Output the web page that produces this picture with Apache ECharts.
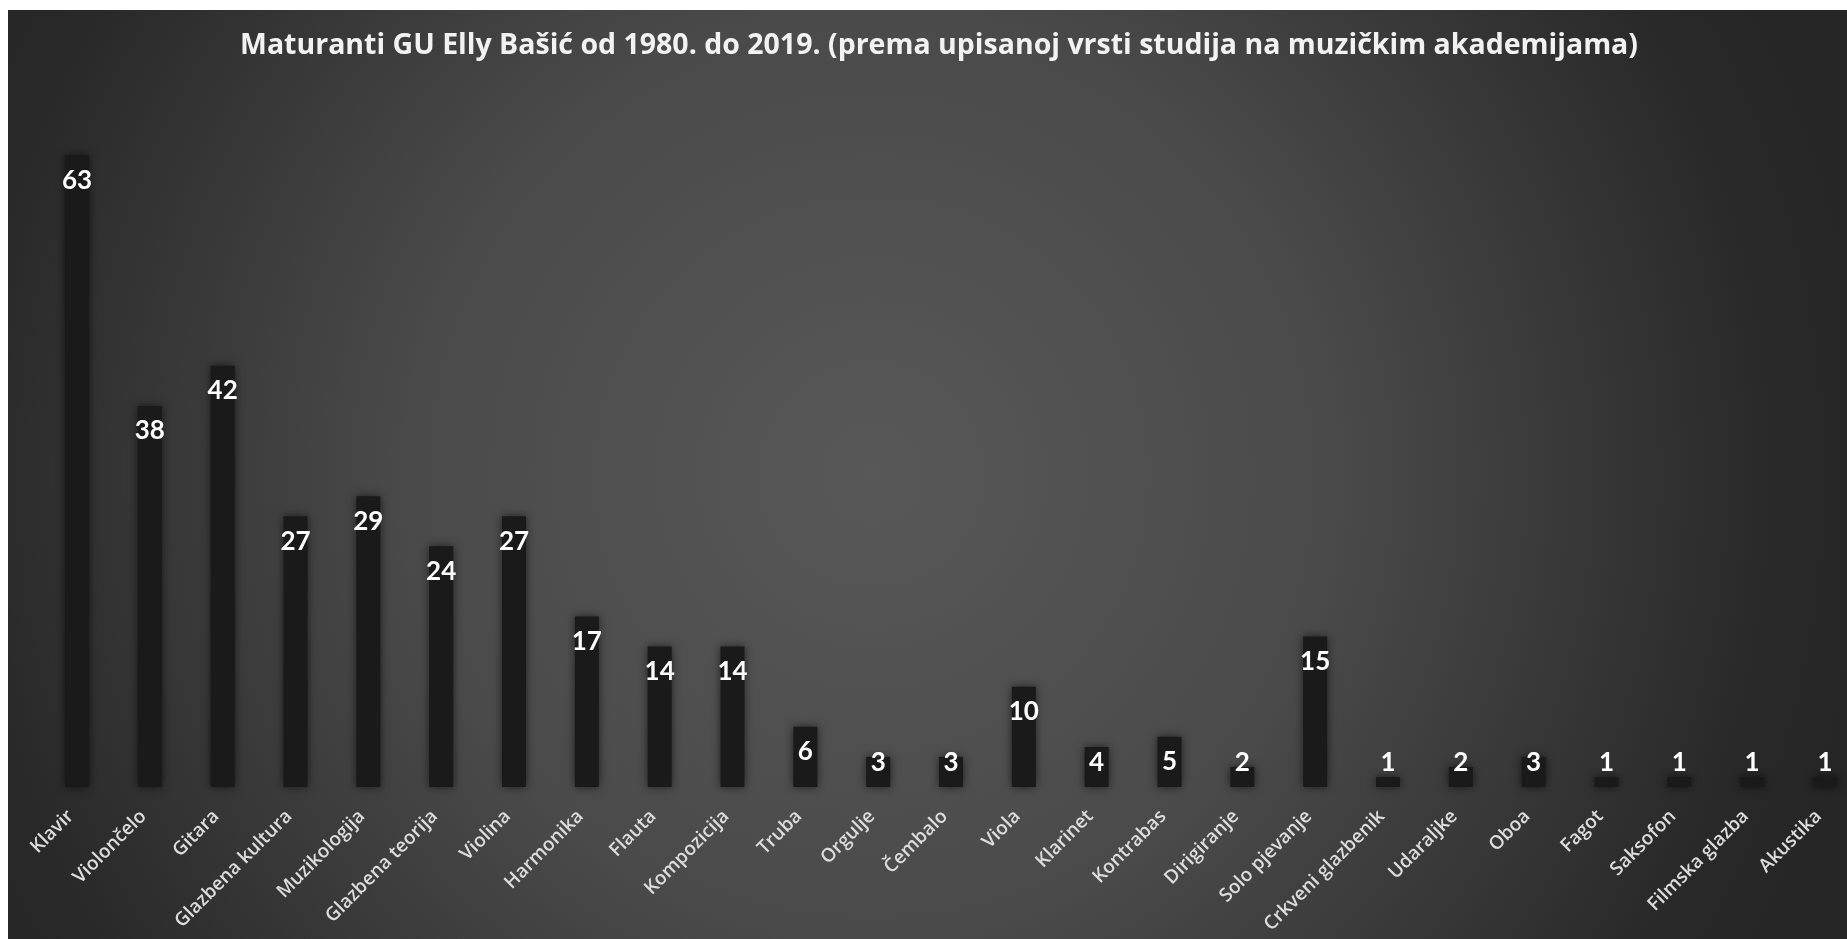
<!DOCTYPE html>
<html>
<head>
<meta charset="utf-8">
<title>Maturanti GU Elly Bašić</title>
<script src="https://cdn.jsdelivr.net/npm/echarts@6/dist/echarts.min.js"></script>
<style>
  html, body {
    margin: 0;
    padding: 0;
    background: #ffffff;
    overflow: hidden;
  }
  /* chart is cut off on the right in the original, so it runs past the window */
  .histogram {
    position: absolute;
    left: 8px;
    top: 10px;
    width: 1860px;
    height: 929px;
  }
</style>
</head>
<body>
<div class="histogram" id="chart"></div>
<script>
const titleText =
  "Maturanti GU Elly Bašić od 1980. do 2019. (prema upisanoj vrsti studija na muzičkim akademijama)";

const studyTypes = [
  "Klavir", "Violončelo", "Gitara", "Glazbena kultura", "Muzikologija",
  "Glazbena teorija", "Violina", "Harmonika", "Flauta", "Kompozicija",
  "Truba", "Orgulje", "Čembalo", "Viola", "Klarinet", "Kontrabas",
  "Dirigiranje", "Solo pjevanje", "Crkveni glazbenik", "Udaraljke",
  "Oboa", "Fagot", "Saksofon", "Filmska glazba", "Akustika",
];

const graduates = [
  63, 38, 42, 27, 29, 24, 27, 17, 14, 14, 6, 3, 3, 10, 4, 5, 2, 15,
  1, 2, 3, 1, 1, 1, 1,
];

const initHistogramChart = () => {
  const chartElement = document.getElementById("chart");
  const histChart = echarts.init(chartElement);

  // short bars: label sits on the baseline instead of inside the bar top
  const barData = graduates.map((v) => {
    if (v < 5) {
      return { value: v, label: { position: "insideBottom", distance: 11 } };
    }
    return v;
  });

  const options = {
    backgroundColor: {
      type: "radial",
      x: 0.4645,
      y: 0.5,
      r: 1.08,
      colorStops: [
        { offset: 0, color: "#585858" },
        { offset: 0.46, color: "#4a4a4a" },
        { offset: 0.9, color: "#292929" },
        { offset: 1, color: "#262626" },
      ],
    },
    title: {
      text: titleText,
      left: 926,
      textAlign: "center",
      top: 16,
      textStyle: {
        color: "#f2f2f2",
        fontFamily: "Open Sans",
        fontWeight: "bold",
        fontSize: 28.5,
      },
    },
    grid: {
      left: 32.6,
      right: 6.6,
      top: 75,
      bottom: 152,
    },
    xAxis: {
      type: "category",
      data: studyTypes,
      axisLine: { show: false },
      axisTick: { show: false },
      axisLabel: {
        interval: 0,
        rotate: 45,
        margin: 20,
        padding: [0, 9, 0, 0],
        color: "#dcdcdc",
        fontFamily: "Open Sans",
        fontWeight: 600,
        fontSize: 19,
      },
    },
    yAxis: {
      type: "value",
      min: 0,
      max: 70,
      show: false,
      splitLine: { show: false },
    },
    series: [
      {
        type: "bar",
        data: barData,
        barWidth: 24,
        itemStyle: {
          color: "#1a1a1a",
          shadowBlur: 8,
          shadowColor: "rgba(0,0,0,0.6)",
        },
        label: {
          show: true,
          position: "insideTop",
          distance: 12,
          color: "#ffffff",
          fontFamily: "Lato",
          fontWeight: "bold",
          fontSize: 26,
        },
      },
    ],
  };

  histChart.setOption(options);
};

initHistogramChart();
</script>
</body>
</html>
